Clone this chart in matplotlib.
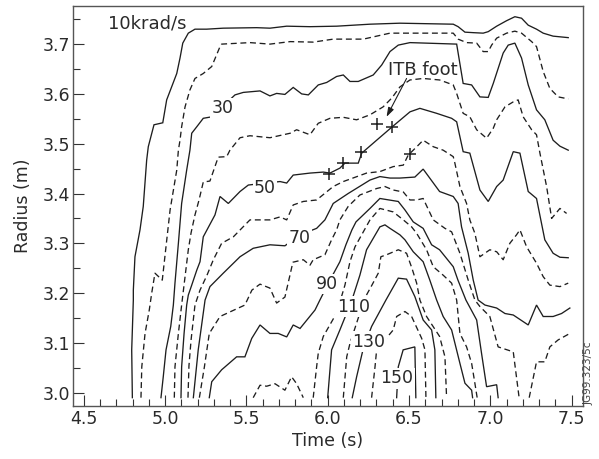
import matplotlib
matplotlib.use("Agg")
import matplotlib.pyplot as plt
from matplotlib.ticker import MultipleLocator

# contour traces (time s, radius m)
T10 = [4.799, 4.795, 4.805, 4.805, 4.815, 4.846, 4.866, 4.887, 4.897, 4.932, 4.986, 5.010, 5.072, 5.092,
       5.109, 5.143, 5.184, 5.256, 5.358, 5.563, 5.645, 5.748, 5.891, 6.055, 6.260, 6.444, 6.772, 6.802,
       6.844, 6.895, 6.956, 6.987, 7.039, 7.100, 7.151, 7.192, 7.233, 7.284, 7.325, 7.386, 7.479]
R10 = [2.990, 3.086, 3.186, 3.206, 3.273, 3.327, 3.374, 3.467, 3.494, 3.538, 3.542, 3.588, 3.641, 3.672,
       3.702, 3.722, 3.730, 3.730, 3.732, 3.733, 3.732, 3.736, 3.735, 3.736, 3.740, 3.742, 3.740, 3.735,
       3.724, 3.723, 3.722, 3.725, 3.736, 3.747, 3.755, 3.752, 3.738, 3.730, 3.722, 3.716, 3.713]

T20 = [4.852, 4.857, 4.877, 4.903, 4.918, 4.938, 4.983, 5.000, 5.031, 5.072, 5.082, 5.092, 5.102, 5.123,
       5.153, 5.184, 5.235, 5.287, 5.338, 5.348, 5.522, 5.645, 5.769, 5.911, 6.034, 6.219, 6.383, 6.772,
       6.802, 6.854, 6.916, 6.956, 6.987, 7.008, 7.039, 7.100, 7.151, 7.192, 7.254, 7.284, 7.325, 7.366,
       7.417, 7.479]
R20 = [2.990, 3.052, 3.119, 3.166, 3.200, 3.240, 3.226, 3.276, 3.367, 3.447, 3.487, 3.507, 3.534, 3.574,
       3.608, 3.631, 3.641, 3.655, 3.695, 3.700, 3.703, 3.700, 3.705, 3.704, 3.710, 3.710, 3.722, 3.722,
       3.710, 3.703, 3.702, 3.685, 3.685, 3.698, 3.712, 3.722, 3.726, 3.722, 3.705, 3.695, 3.645, 3.611,
       3.594, 3.590]

T30 = [4.975, 4.989, 5.006, 5.035, 5.051, 5.061, 5.082, 5.102, 5.133, 5.153, 5.164, 5.195, 5.235, 5.287,
       5.430, 5.481, 5.584, 5.645, 5.686, 5.737, 5.788, 5.840, 5.881, 5.942, 5.994, 6.055, 6.096, 6.137,
       6.188, 6.280, 6.332, 6.383, 6.434, 6.506, 6.793, 6.833, 6.885, 6.936, 6.987, 7.018, 7.079, 7.110,
       7.151, 7.192, 7.233, 7.284, 7.335, 7.386, 7.428, 7.479]
R30 = [2.990, 3.032, 3.086, 3.133, 3.176, 3.220, 3.300, 3.380, 3.447, 3.487, 3.521, 3.534, 3.551, 3.554,
       3.598, 3.603, 3.606, 3.596, 3.601, 3.599, 3.613, 3.600, 3.598, 3.618, 3.623, 3.635, 3.638, 3.625,
       3.625, 3.638, 3.658, 3.685, 3.698, 3.703, 3.700, 3.621, 3.618, 3.594, 3.593, 3.621, 3.682, 3.698,
       3.702, 3.672, 3.618, 3.568, 3.548, 3.507, 3.495, 3.487]

T40 = [5.057, 5.061, 5.082, 5.102, 5.123, 5.143, 5.160, 5.184, 5.209, 5.235, 5.276, 5.327, 5.379, 5.399,
       5.461, 5.522, 5.645, 5.769, 5.809, 5.891, 5.942, 6.014, 6.096, 6.178, 6.260, 6.341, 6.395, 6.444,
       6.506, 6.587, 6.688, 6.772, 6.793, 6.833, 6.874, 6.916, 6.977, 7.018, 7.039, 7.090, 7.141, 7.171,
       7.202, 7.254, 7.284, 7.305, 7.346, 7.377, 7.428, 7.469]
R40 = [2.990, 3.052, 3.119, 3.176, 3.233, 3.287, 3.321, 3.357, 3.387, 3.423, 3.425, 3.473, 3.474, 3.487,
       3.512, 3.516, 3.512, 3.521, 3.528, 3.518, 3.541, 3.551, 3.553, 3.548, 3.558, 3.574, 3.592, 3.614,
       3.628, 3.631, 3.628, 3.618, 3.601, 3.561, 3.554, 3.528, 3.511, 3.531, 3.548, 3.574, 3.584, 3.588,
       3.554, 3.528, 3.518, 3.481, 3.414, 3.350, 3.370, 3.360]

T50 = [5.098, 5.102, 5.117, 5.133, 5.143, 5.164, 5.195, 5.215, 5.235, 5.307, 5.338, 5.389, 5.461, 5.512,
       5.621, 5.707, 5.748, 5.788, 5.891, 5.973, 6.014, 6.075, 6.106, 6.188, 6.209, 6.301, 6.397, 6.506,
       6.567, 6.670, 6.762, 6.793, 6.833, 6.874, 6.936, 6.987, 7.039, 7.079, 7.141, 7.182, 7.233, 7.284,
       7.335, 7.386, 7.428, 7.479]
R50 = [2.990, 3.052, 3.119, 3.176, 3.196, 3.216, 3.246, 3.263, 3.313, 3.357, 3.394, 3.380, 3.404, 3.417,
       3.421, 3.424, 3.421, 3.437, 3.441, 3.443, 3.441, 3.451, 3.461, 3.461, 3.481, 3.507, 3.534, 3.564,
       3.571, 3.561, 3.551, 3.544, 3.484, 3.481, 3.407, 3.384, 3.414, 3.427, 3.484, 3.481, 3.404, 3.390,
       3.307, 3.280, 3.272, 3.271]

T60 = [5.141, 5.147, 5.160, 5.184, 5.215, 5.258, 5.297, 5.348, 5.420, 5.522, 5.645, 5.707, 5.748, 5.788,
       5.850, 5.932, 6.034, 6.096, 6.239, 6.321, 6.403, 6.465, 6.495, 6.557, 6.587, 6.649, 6.710, 6.772,
       6.782, 6.813, 6.854, 6.874, 6.905, 6.936, 6.997, 7.039, 7.079, 7.120, 7.161, 7.182, 7.223, 7.284,
       7.325, 7.366, 7.428, 7.479]
R60 = [2.990, 3.054, 3.106, 3.176, 3.206, 3.236, 3.267, 3.300, 3.313, 3.347, 3.347, 3.353, 3.347, 3.377,
       3.384, 3.387, 3.414, 3.424, 3.441, 3.444, 3.454, 3.457, 3.477, 3.497, 3.507, 3.494, 3.487, 3.474,
       3.461, 3.414, 3.380, 3.347, 3.320, 3.273, 3.287, 3.283, 3.267, 3.300, 3.317, 3.327, 3.293, 3.260,
       3.233, 3.216, 3.213, 3.220]

T70 = [5.174, 5.204, 5.246, 5.276, 5.358, 5.461, 5.542, 5.645, 5.737, 5.830, 5.932, 5.983, 6.034, 6.126,
       6.260, 6.321, 6.383, 6.444, 6.536, 6.587, 6.688, 6.772, 6.802, 6.823, 6.864, 6.895, 6.925, 6.967,
       7.039, 7.090, 7.141, 7.233, 7.284, 7.325, 7.386, 7.438, 7.489]
R70 = [2.990, 3.086, 3.186, 3.213, 3.240, 3.273, 3.290, 3.297, 3.295, 3.317, 3.330, 3.347, 3.380, 3.400,
       3.427, 3.434, 3.431, 3.431, 3.433, 3.449, 3.404, 3.394, 3.380, 3.333, 3.280, 3.226, 3.186, 3.176,
       3.170, 3.159, 3.156, 3.136, 3.176, 3.153, 3.153, 3.159, 3.170]

T80 = [5.211, 5.242, 5.272, 5.338, 5.491, 5.534, 5.584, 5.645, 5.686, 5.737, 5.768, 5.786, 5.850, 5.891,
       5.911, 5.983, 6.024, 6.055, 6.075, 6.126, 6.198, 6.301, 6.352, 6.403, 6.465, 6.506, 6.547, 6.587,
       6.649, 6.721, 6.762, 6.813, 6.864, 6.905, 6.936, 6.997, 7.048, 7.141, 7.177]
R80 = [2.990, 3.052, 3.119, 3.153, 3.176, 3.206, 3.218, 3.210, 3.180, 3.192, 3.236, 3.262, 3.267, 3.256,
       3.267, 3.277, 3.307, 3.327, 3.347, 3.374, 3.397, 3.410, 3.414, 3.407, 3.403, 3.387, 3.387, 3.390,
       3.347, 3.330, 3.323, 3.280, 3.226, 3.186, 3.173, 3.153, 3.092, 3.082, 2.990]
T80b = [7.239, 7.284, 7.335, 7.366, 7.417, 7.489]
R80b = [2.990, 3.062, 3.062, 3.092, 3.106, 3.119]

T90 = [5.272, 5.287, 5.348, 5.440, 5.491, 5.533, 5.584, 5.645, 5.696, 5.748, 5.788, 5.830, 5.922, 5.952,
       6.014, 6.075, 6.112, 6.149, 6.174, 6.260, 6.321, 6.434, 6.475, 6.526, 6.587, 6.639, 6.688, 6.772,
       6.801, 6.850, 6.916, 6.946, 6.977, 7.039, 7.048]
R90 = [2.990, 3.022, 3.046, 3.072, 3.072, 3.109, 3.136, 3.119, 3.119, 3.112, 3.136, 3.129, 3.166, 3.186,
       3.226, 3.263, 3.297, 3.327, 3.343, 3.370, 3.390, 3.384, 3.367, 3.343, 3.330, 3.297, 3.287, 3.253,
       3.226, 3.186, 3.146, 3.079, 3.012, 3.016, 2.990]

T100 = [5.911, 5.932, 5.942, 5.973, 6.055, 6.106, 6.137, 6.168, 6.260, 6.321, 6.403, 6.465, 6.516, 6.547,
        6.608, 6.649, 6.710, 6.762, 6.793, 6.813, 6.854, 6.885, 6.905, 6.919]
R100 = [2.990, 3.052, 3.079, 3.113, 3.160, 3.216, 3.263, 3.293, 3.347, 3.370, 3.363, 3.347, 3.333, 3.320,
        3.287, 3.253, 3.236, 3.220, 3.186, 3.119, 3.092, 3.059, 3.019, 2.990]
T100b = [5.542, 5.584, 5.625, 5.676, 5.737, 5.778, 5.809, 5.850]
R100b = [2.990, 3.015, 3.013, 3.018, 3.005, 3.032, 3.018, 2.990]

T110 = [6.000, 6.024, 6.075, 6.117, 6.149, 6.198, 6.239, 6.321, 6.352, 6.383, 6.444, 6.475, 6.526, 6.587,
        6.628, 6.670, 6.710, 6.762, 6.813, 6.844, 6.885, 6.891]
R110 = [2.990, 3.086, 3.126, 3.160, 3.186, 3.236, 3.287, 3.333, 3.337, 3.330, 3.317, 3.307, 3.283, 3.263,
        3.226, 3.186, 3.153, 3.126, 3.059, 3.019, 3.005, 2.990]

T120 = [6.096, 6.117, 6.137, 6.198, 6.235, 6.272, 6.311, 6.327, 6.362, 6.434, 6.485, 6.518, 6.547, 6.567,
        6.608, 6.688, 6.721, 6.731]
R120 = [2.990, 3.072, 3.099, 3.160, 3.194, 3.216, 3.240, 3.273, 3.277, 3.287, 3.280, 3.250, 3.220, 3.186,
        3.153, 3.113, 3.072, 2.990]

T130 = [6.151, 6.178, 6.219, 6.270, 6.358, 6.434, 6.485, 6.536, 6.587, 6.639, 6.659, 6.665]
R130 = [2.990, 3.032, 3.089, 3.133, 3.186, 3.230, 3.228, 3.193, 3.146, 3.126, 3.086, 2.990]

T140 = [6.270, 6.291, 6.301, 6.403, 6.424, 6.475, 6.516, 6.578, 6.598, 6.604]
R140 = [2.990, 3.052, 3.086, 3.126, 3.153, 3.163, 3.153, 3.109, 3.086, 2.990]

T150 = [6.424, 6.434, 6.464, 6.536, 6.542]
R150 = [2.990, 3.052, 3.086, 3.092, 2.990]

# ITB foot points
T_ITB = [6.010, 6.096, 6.204, 6.305, 6.395, 6.506]
R_ITB = [3.439, 3.461, 3.484, 3.540, 3.534, 3.479]

# inline contour labels: text, time, radius (baseline)
LABELS = ["30", "50", "70", "90", "110", "130", "150"]
LABEL_T = [5.353, 5.614, 5.825, 5.994, 6.157, 6.254, 6.426]
LABEL_R = [3.561, 3.402, 3.301, 3.208, 3.163, 3.092, 3.019]

INK = "#1e1e1e"
TXT = "#2a2a2a"

solid = [(T10, R10), (T30, R30), (T50, R50), (T70, R70), (T90, R90),
         (T110, R110), (T130, R130), (T150, R150)]
dashed = [(T20, R20), (T40, R40), (T60, R60), (T80, R80), (T80b, R80b),
          (T100, R100), (T100b, R100b), (T120, R120), (T140, R140)]

fig = plt.figure(figsize=(5.99, 4.59), dpi=100)
ax = fig.add_axes([0.1224, 0.1155, 0.8504, 0.8714])

for t, r in solid:
    ax.plot(t, r, color=INK, lw=0.95, solid_joinstyle="miter")
for t, r in dashed:
    ax.plot(t, r, color=INK, lw=0.95, linestyle=(0, (4.5, 2.8)))

ax.plot(T_ITB, R_ITB, linestyle="none", marker="+", ms=8, mew=1.1, color=INK, zorder=4)

for s, t, r in zip(LABELS, LABEL_T, LABEL_R):
    ax.text(t, r, s, ha="center", va="baseline", fontsize=12.5, color=TXT, zorder=5,
            bbox=dict(boxstyle="square,pad=0.08", fc="white", ec="none"))

ax.text(4.65, 3.732, "10krad/s", ha="left", va="baseline", fontsize=13, color=TXT)
ax.text(6.372, 3.637, "ITB foot", ha="left", va="baseline", fontsize=13, color=TXT)
ax.annotate("", xy=(6.362, 3.554), xytext=(6.485, 3.631),
            arrowprops=dict(arrowstyle="-|>,head_length=0.55,head_width=0.18",
                            color=INK, lw=0.8, shrinkA=0, shrinkB=0))

ax.set_xlim(4.436, 7.568)
ax.set_ylim(2.9733, 3.7765)
ax.xaxis.set_major_locator(MultipleLocator(0.5))
ax.xaxis.set_minor_locator(MultipleLocator(0.1))
ax.yaxis.set_major_locator(MultipleLocator(0.1))
ax.yaxis.set_minor_locator(MultipleLocator(0.05))
ax.xaxis.set_major_formatter(plt.FormatStrFormatter("%.1f"))
ax.yaxis.set_major_formatter(plt.FormatStrFormatter("%.1f"))

ax.tick_params(which="both", direction="in", top=False, right=False, color="#333333",
               width=0.8, labelsize=12.5, labelcolor=TXT)
ax.tick_params(which="major", length=8)
ax.tick_params(which="minor", length=5)
ax.tick_params(axis="x", pad=3)
ax.tick_params(axis="y", pad=2.5)
for sp in ax.spines.values():
    sp.set_color("#555555")
    sp.set_linewidth(1.0)

ax.set_xlabel("Time (s)", fontsize=12.5, color=TXT, labelpad=3)
ax.set_ylabel("Radius (m)", fontsize=12.5, color=TXT, labelpad=7)

fig.text(0.9833, 0.1863, "JG99.323/5c", rotation=90, ha="center", va="center",
         fontsize=7.5, color="#444444")

fig.savefig("out.png", dpi=100)
